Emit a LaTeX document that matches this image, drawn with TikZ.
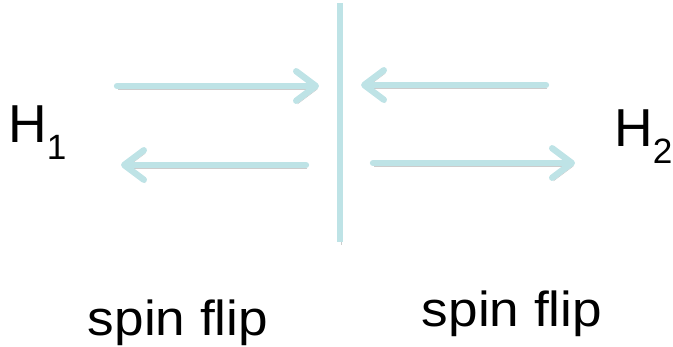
\documentclass[tikz,border=0pt]{standalone}
\usepackage{fontspec}
\setmainfont{Liberation Sans}
\usetikzlibrary{arrows.meta}
\definecolor{spinblue}{RGB}{190,227,230}
\tikzset{
  wall/.style={line width=4.5pt, draw=spinblue,
    preaction={draw=black!20, transform canvas={shift={(1pt,-2.2pt)}}}},
  flow/.style={wall, line cap=round,
    -{Straight Barb[length=14pt, width=21pt, round]}},
  label/.style={inner sep=0pt, xscale=1.08, font=\fontsize{35}{42}\selectfont},
  hlabel/.style={inner sep=0pt, font=\fontsize{38}{44}\selectfont}
}
\newcommand{\sub}[1]{\raisebox{-12pt}{\fontsize{25}{28}\selectfont #1}}

\begin{document}
\begin{tikzpicture}[x=0.025cm, y=-0.025cm]
\useasboundingbox (0,0) rectangle (673,347);
% the wall
\coordinate (top) at (340,3);
\coordinate (bot) at (340,242);
\draw[wall] (top) -- (bot);
% left side
\coordinate (la) at (117,86);
\coordinate (lb) at (319,86);
\coordinate (lc) at (306,165);
\coordinate (ld) at (121,165);
\draw[flow] (la) -- (lb);
\draw[flow] (lc) -- (ld);
% right side
\coordinate (ra) at (546,85);
\coordinate (rb) at (361,85);
\coordinate (rc) at (373,163);
\coordinate (rd) at (575,163);
\draw[flow] (ra) -- (rb);
\draw[flow] (rc) -- (rd);
% labels
\node[hlabel, anchor=base west] (h1) at (8,143) {H\sub{1}};
\node[hlabel, anchor=base west] (h2) at (614,147) {H\sub{2}};
\node[label, anchor=base] (flipl) at (178,336) {spin flip};
\node[label, anchor=base] (flipr) at (512,327) {spin flip};
\end{tikzpicture}
\end{document}
